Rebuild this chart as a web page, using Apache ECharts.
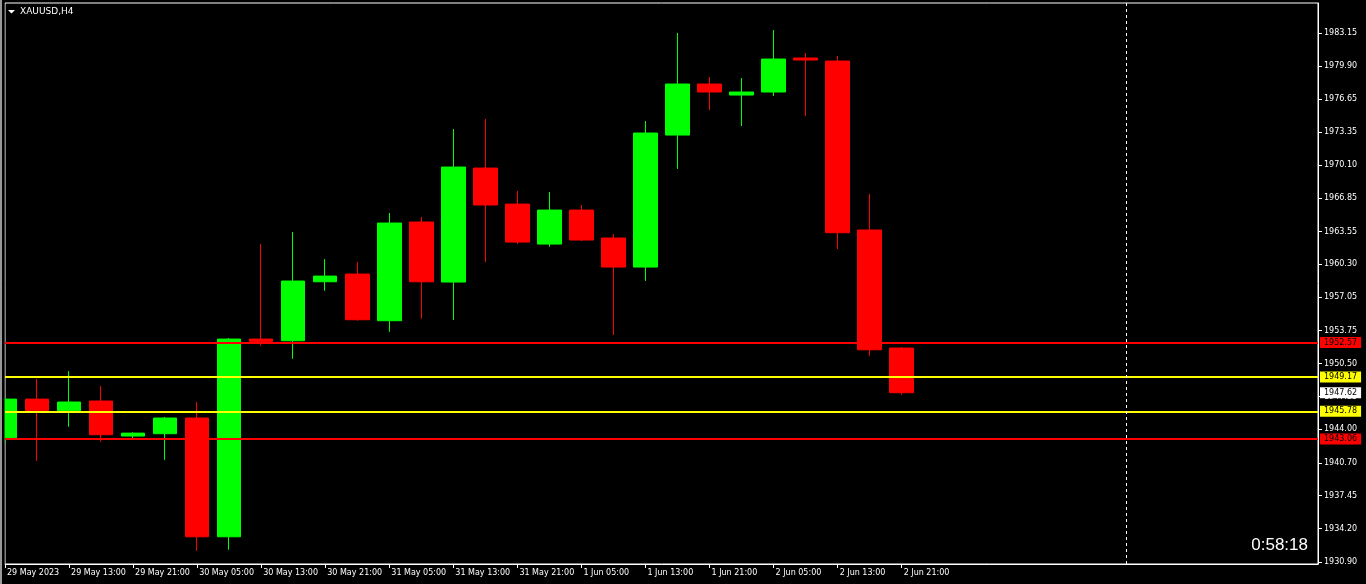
<!DOCTYPE html>
<html>
<head>
<meta charset="utf-8">
<script src="https://cdn.jsdelivr.net/npm/echarts@6/dist/echarts.min.js"></script>
<style>
html,body{margin:0;padding:0;background:#000;}
#c{width:1366px;height:584px;}
</style>
</head>
<body>
<div id="c"></div>
<script>
const categories = [
  '29 May 2023','29 May 09:00','29 May 13:00','29 May 17:00','29 May 21:00',
  '30 May 01:00','30 May 05:00','30 May 09:00','30 May 13:00','30 May 17:00','30 May 21:00',
  '31 May 01:00','31 May 05:00','31 May 09:00','31 May 13:00','31 May 17:00','31 May 21:00',
  '1 Jun 01:00','1 Jun 05:00','1 Jun 09:00','1 Jun 13:00','1 Jun 17:00','1 Jun 21:00',
  '2 Jun 01:00','2 Jun 05:00','2 Jun 09:00','2 Jun 13:00','2 Jun 17:00','2 Jun 21:00'
];
const emptySlots = 13;
const opens  = [1943.17,1946.99,1945.84,1946.80,1943.34,1943.57,1945.12,1933.39,1952.92,1952.75,1958.58,1959.34,1954.73,1964.48,1958.55,1969.81,1966.25,1962.30,1965.66,1962.90,1960.03,1973.07,1978.11,1977.02,1977.32,1980.68,1980.38,1963.69,1952.03];
const highs  = [1947.09,1948.97,1949.76,1948.28,1943.70,1945.22,1946.70,1953.02,1962.30,1963.49,1960.82,1960.53,1965.37,1964.97,1973.66,1974.65,1967.54,1967.44,1966.16,1963.29,1974.45,1983.15,1978.80,1978.70,1983.44,1981.17,1980.87,1967.24,1952.13];
const lows   = [1942.58,1940.90,1944.26,1942.78,1942.97,1940.99,1932.01,1932.11,1952.26,1950.97,1957.69,1954.73,1953.64,1954.93,1954.80,1960.53,1962.30,1962.04,1962.60,1953.32,1958.65,1969.71,1975.54,1973.96,1976.92,1974.95,1961.81,1951.27,1947.42];
const closes = [1946.99,1945.84,1946.70,1943.47,1943.63,1945.12,1933.39,1952.92,1952.69,1958.65,1959.14,1954.83,1964.38,1958.58,1969.91,1966.16,1962.50,1965.66,1962.70,1960.03,1973.27,1978.11,1977.32,1977.32,1980.58,1980.48,1963.42,1951.86,1947.62];
const yTickLabels = [1930.90,1934.20,1937.45,1940.70,1944.00,1947.25,1950.50,1953.75,1957.05,1960.30,1963.55,1966.85,1970.10,1973.35,1976.65,1979.90,1983.15];
const levelLines = [
  {value:1952.57, color:'#ff0000'},
  {value:1949.17, color:'#ffff00'},
  {value:1945.78, color:'#ffff00'},
  {value:1943.06, color:'#ff0000'}
];
const bidPrice = 1947.62;
const shiftIndex = 35;
const symbolName = 'XAUUSD,H4';
const countdown = '0:58:18';

const allCats = categories.slice();
for (let i = 0; i < emptySlots; i++) allCats.push('slot' + i);
const candleData = categories.map((c, i) => [opens[i], closes[i], lows[i], highs[i]]);

const markData = levelLines.map(l => ({
  yAxis: l.value,
  lineStyle: {color: l.color, width: 2, type: 'solid'},
  label: {show: true, position: 'end', distance: 2, formatter: l.value.toFixed(2),
          backgroundColor: l.color, color: '#000', fontFamily: 'DejaVu Sans', fontSize: 8,
          padding: [1, 4, 1, 4], lineHeight: 9}
}));
markData.push({
  yAxis: bidPrice,
  lineStyle: {color: 'rgba(0,0,0,0)', width: 0},
  label: {show: true, position: 'end', distance: 2, formatter: bidPrice.toFixed(2),
          backgroundColor: '#ffffff', color: '#000', fontFamily: 'DejaVu Sans', fontSize: 8,
          padding: [1, 4, 1, 4], lineHeight: 9}
});
markData.push({
  xAxis: allCats[shiftIndex],
  lineStyle: {color: '#ffffff', width: 1, type: [3, 3]},
  label: {show: false}
});

const chart = echarts.init(document.getElementById('c'), null, {renderer: 'canvas'});
chart.setOption({
  backgroundColor: '#000000',
  animation: false,
  grid: {left: 5, right: 48, top: 3, bottom: 20, show: true, borderColor: '#ffffff', borderWidth: 1, backgroundColor: 'transparent'},
  xAxis: {
    type: 'category', data: allCats, boundaryGap: false,
    axisLine: {show: true, lineStyle: {color: '#ffffff'}},
    axisTick: {show: true, length: 4, lineStyle: {color: '#ffffff'},
               interval: (idx) => idx % 2 === 0 && idx < categories.length},
    axisLabel: {show: true, color: '#ffffff', fontFamily: 'DejaVu Sans', fontSize: 8, align: 'left',
                margin: 5, padding: [0, 0, 0, 2],
                interval: (idx) => idx % 2 === 0 && idx < categories.length,
                formatter: (v, idx) => idx < categories.length ? v : ''},
    splitLine: {show: false}
  },
  yAxis: {
    type: 'value', position: 'right', min: 1930.702, max: 1986.113, scale: true,
    axisLine: {show: true, lineStyle: {color: '#ffffff'}},
    axisTick: {show: true, length: 4, inside: false, lineStyle: {color: '#ffffff'}, customValues: yTickLabels},
    axisLabel: {show: true, color: '#ffffff', fontFamily: 'DejaVu Sans', fontSize: 8, margin: 6,
                customValues: yTickLabels, formatter: v => v.toFixed(2)},
    splitLine: {show: false}
  },
  series: [{
    type: 'candlestick',
    data: candleData,
    barWidth: 24,
    clip: true,
    itemStyle: {color: '#00ff00', color0: '#ff0000', borderColor: '#00ff00', borderColor0: '#ff0000', borderWidth: 1},
    emphasis: {disabled: true},
    markLine: {silent: true, symbol: ['none', 'none'], animation: false, data: markData}
  }],
  graphic: [
    {type: 'rect', z: 100, left: 2, top: 0, shape: {width: 2.5, height: 584}, style: {fill: '#000000'}, silent: true},
    {type: 'rect', z: 100, left: 0, top: 0, shape: {width: 2, height: 584}, style: {fill: '#9a9a9a'}, silent: true},
    {type: 'polygon', z: 100, shape: {points: [[8, 10], [15, 10], [11.5, 13.5]]}, style: {fill: '#ffffff'}, silent: true},
    {type: 'text', z: 100, x: 20, y: 11.5, style: {text: symbolName, fill: '#ffffff', font: '9px "DejaVu Sans"', textVerticalAlign: 'middle'}, silent: true},
    {type: 'text', z: 100, x: 1308, y: 545, style: {text: countdown, fill: '#ffffff', font: '17px "Liberation Sans"', textAlign: 'right', textVerticalAlign: 'middle'}, silent: true}
  ]
});
</script>
</body>
</html>
